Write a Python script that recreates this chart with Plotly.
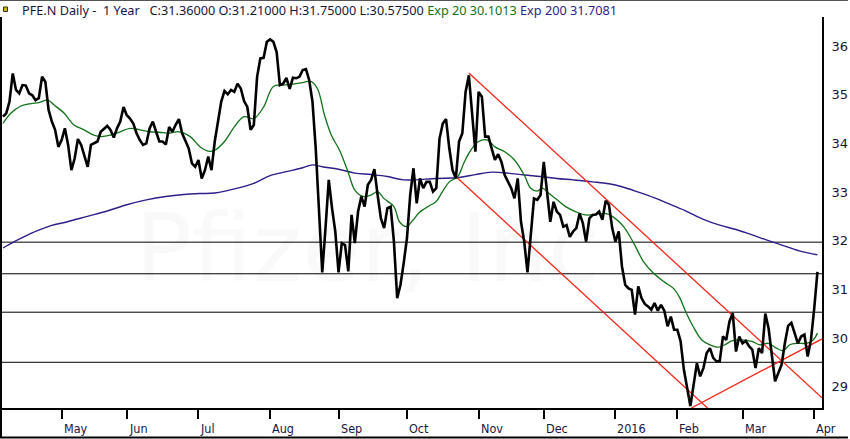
import pandas as pd
import plotly.graph_objects as go

# NYSE holidays inside the window (trading-day axis, no gaps)
holidays = ["2015-05-25", "2015-07-03", "2015-09-07", "2015-11-26",
            "2015-12-25", "2016-01-01", "2016-01-18", "2016-02-15", "2016-03-25"]

# daily closes, Apr 7 2015 -> Apr 5 2016
close = [
    34.55, 34.62, 34.86, 35.44, 35.10, 35.03, 35.20, 35.19, 35.03, 34.99,
    34.89, 34.93, 35.37, 35.27, 34.69, 34.45, 34.28, 33.93, 34.07, 34.31,
    33.97, 33.45, 33.69, 34.09, 33.97, 33.76, 33.52, 33.97, 34.00, 34.04,
    34.24, 34.31, 34.36, 34.28, 34.12, 34.31, 34.45, 34.75, 34.58, 34.51,
    34.41, 34.21, 34.07, 33.97, 34.00, 34.31, 34.45, 34.24, 34.04, 34.04,
    33.98, 34.34, 34.24, 34.38, 34.50, 34.21, 34.04, 33.90, 33.59, 33.52,
    33.66, 33.28, 33.45, 33.73, 33.45, 34.04, 34.45, 34.86, 35.08, 35.01,
    35.10, 35.06, 35.23, 35.13, 34.87, 34.75, 34.28, 34.38, 35.37, 35.75,
    35.76, 36.09, 36.14, 36.09, 35.88, 35.20, 35.23, 35.35, 35.12, 35.35,
    35.34, 35.37, 35.51, 35.53, 35.30, 34.86, 33.90, 32.53, 31.35, 32.26,
    33.25, 32.67, 32.19, 31.35, 31.95, 31.91, 31.37, 32.53, 31.95, 32.60,
    32.91, 32.70, 33.15, 33.25, 33.47, 32.94, 32.46, 32.26, 32.67, 32.70,
    31.98, 30.82, 31.09, 31.54, 32.05, 32.94, 33.49, 32.77, 33.28, 33.08,
    33.21, 33.21, 33.01, 33.08, 34.10, 34.41, 34.50, 33.90, 33.45, 33.28,
    34.04, 34.21, 35.06, 35.40, 34.58, 33.83, 35.06, 34.96, 34.14, 34.14,
    33.90, 33.66, 33.78, 33.62, 33.35, 33.21, 33.08, 32.87, 33.28, 32.39,
    31.98, 31.35, 32.19, 32.87, 32.84, 32.94, 33.62, 33.01, 32.39, 32.80,
    32.60, 32.53, 32.29, 32.32, 32.08, 32.19, 32.26, 32.56, 32.36, 31.98,
    32.46, 32.53, 32.54, 32.60, 32.43, 32.82, 32.74, 32.26, 31.98, 32.19,
    31.47, 31.09, 31.02, 30.99, 30.48, 31.06, 30.82, 30.70, 30.65, 30.58,
    30.72, 30.56, 30.68, 30.56, 30.24, 30.44, 30.17, 30.17, 29.93, 29.35,
    28.97, 28.60, 29.04, 29.48, 29.21, 29.38, 29.69, 29.79, 29.59, 29.52,
    29.52, 30.03, 29.96, 30.34, 30.51, 29.72, 30.03, 29.89, 29.94, 29.83,
    29.76, 29.38, 29.79, 29.69, 30.50, 30.20, 29.65, 29.11, 29.28, 29.45,
    29.89, 30.25, 30.31, 30.10, 29.89, 30.03, 30.07, 29.62, 29.95, 30.60,
    31.36,
]

# moving averages (day index, value)
ema20_day = [0, 2.4, 5.5, 8.6, 11, 13.7, 15.7, 18.8, 21.8, 24.9, 27.9, 30, 33, 36, 39,
             42, 45, 48, 51, 54, 57.5, 60.5, 63, 65, 68, 71, 74, 77, 80, 83, 86, 89,
             92, 94.3, 96.5, 98.7, 100.8, 103.3, 105.9, 108, 110.5, 113, 115, 116.9,
             120, 121.7, 123.8, 125.8, 127.8, 130.9, 132.9, 134.9, 137, 139.6, 141.6,
             143.6, 146, 148.7, 151, 154, 157, 160, 162, 164, 165.6, 167.6, 170.1,
             172.7, 175.7, 178.8, 181.9, 184.9, 187.5, 190.5, 193.6, 196.6, 199.7,
             202.8, 205.8, 207.8, 209.3, 211.8, 214.5, 217, 219.6, 221.6, 223.7,
             226.7, 229.8, 232.3, 234.9, 237.4, 239.5, 241.5, 244, 246.6, 248.7, 250]
ema20_val = [34.41, 34.62, 34.77, 34.82, 34.84, 34.89, 34.79, 34.62, 34.38, 34.28, 34.17,
             34.14, 34.17, 34.24, 34.31, 34.28, 34.24, 34.23, 34.21, 34.24, 34.14, 33.93,
             33.84, 33.86, 34.04, 34.34, 34.55, 34.51, 34.75, 35.17, 35.20, 35.22, 35.25,
             35.28, 35.13, 34.58, 34.17, 33.86, 33.42, 33.04, 32.91, 32.94, 33.01, 32.87,
             32.70, 32.39, 32.29, 32.42, 32.58, 32.72, 32.80, 33.01, 33.21, 33.32, 33.62,
             33.86, 34.04, 34.07, 33.93, 33.83, 33.66, 33.35, 33.08, 33.02, 33.08, 32.97,
             32.84, 32.70, 32.60, 32.53, 32.54, 32.56, 32.48, 32.29, 31.95, 31.57, 31.33,
             31.16, 31.02, 30.82, 30.58, 30.24, 29.96, 29.86, 29.81, 29.86, 29.94, 29.96,
             29.93, 29.86, 29.89, 29.79, 29.74, 29.86, 29.89, 29.89, 29.96, 30.10]

ema200_day = [0, 3.5, 8.6, 14.7, 19.8, 25.9, 32, 38, 44, 50, 55.5, 60.5, 65, 72, 77,
              82, 87, 92, 95, 98, 103, 108, 113, 118, 123, 133, 140, 145, 150, 155,
              160, 165, 170, 175, 181, 186, 190, 195, 200, 205, 210, 215, 220, 225,
              230, 235, 240, 245, 250]
ema200_val = [31.85, 31.98, 32.15, 32.31, 32.39, 32.50, 32.61, 32.74, 32.84, 32.91,
              32.95, 32.97, 32.98, 33.08, 33.18, 33.34, 33.42, 33.50, 33.56, 33.52,
              33.47, 33.39, 33.36, 33.32, 33.25, 33.28, 33.30, 33.36, 33.41, 33.39,
              33.35, 33.32, 33.28, 33.25, 33.21, 33.17, 33.11, 33.00, 32.88, 32.74,
              32.60, 32.44, 32.32, 32.23, 32.12, 32.00, 31.89, 31.78, 31.71]

# drawn trend lines (day index, price)
upper_day = [143, 251.4]
upper_px = [35.45, 28.77]
lower_day = [139, 219]
lower_px = [33.32, 28.39]
rise_day = [211.3, 251.4]
rise_px = [28.56, 29.98]

levels = [31.97, 31.32, 30.53, 29.50]
y_ticks = [29, 30, 31, 32, 33, 34, 35, 36]

dates = pd.bdate_range("2015-04-07", periods=len(close), freq="C", holidays=holidays)
day = list(range(len(close)))

month_idx, month_lbl = [], []
for i in range(1, len(dates)):
    if dates[i].month != dates[i - 1].month:
        month_idx.append(i)
        month_lbl.append(str(dates[i].year) if dates[i].month == 1 else dates[i].strftime("%b"))

W, H = 850, 439
L, R, T, B = 2, 26, 17, 31
pw, ph = W - L - R, H - T - B


def px(x, y):
    # pixel position -> paper coords
    return (x - L) / pw, (H - B - y) / ph


navy = "#16163e"
green = "#11721a"
purple = "#2d1e8a"
red = "#f5261a"

fig = go.Figure()

for lv in levels:
    fig.add_shape(type="line", xref="paper", yref="y", x0=0, x1=1, y0=lv, y1=lv,
                  line=dict(color="black", width=1), layer="below")

fig.add_trace(go.Scatter(x=ema200_day, y=ema200_val, mode="lines",
                         line=dict(color=purple, width=1.4, shape="spline"), name="Exp 200"))
fig.add_trace(go.Scatter(x=ema20_day, y=ema20_val, mode="lines",
                         line=dict(color=green, width=1.3, shape="spline"), name="Exp 20"))
for xs, ys in [(upper_day, upper_px), (lower_day, lower_px), (rise_day, rise_px)]:
    fig.add_trace(go.Scatter(x=xs, y=ys, mode="lines", line=dict(color=red, width=1.3),
                             hoverinfo="skip"))
fig.add_trace(go.Scatter(x=day, y=close, mode="lines", line=dict(color="black", width=2.6),
                         customdata=dates.strftime("%Y-%m-%d"), name="PFE.N",
                         hovertemplate="%{customdata}: %{y:.2f}<extra></extra>"))

# frame pieces outside the plot area
x0, y0 = px(1, 17)
x1, y1 = px(1, 437.5)
fig.add_shape(type="line", xref="paper", yref="paper", x0=x0, x1=x1, y0=y0, y1=y1,
              line=dict(color="black", width=2))
a, b = px(0, 437.5)
c, d = px(850, 437.5)
fig.add_shape(type="line", xref="paper", yref="paper", x0=a, x1=c, y0=b, y1=d,
              line=dict(color="black", width=2))
a, b = px(0, 0.5)
c, d = px(850, 0.5)
fig.add_shape(type="line", xref="paper", yref="paper", x0=a, x1=c, y0=b, y1=d,
              line=dict(color="#555555", width=1))
a, b = px(3.5, 7)
c, d = px(7.5, 11.5)
fig.add_shape(type="rect", xref="paper", yref="paper", x0=a, x1=c, y0=b, y1=d,
              fillcolor="#c9b800", line=dict(color="#333300", width=1))

# watermark
wx, wy = px(368, 305)
fig.add_annotation(text="Pfizer, Inc", xref="paper", yref="paper", x=wx, y=wy,
                   showarrow=False, font=dict(family="DejaVu Sans", size=95,
                                              color="rgba(0,0,0,0.022)"))

# header line
hx, hy = px(20, 10)
header = ("PFE.N Daily -\u00a0 1 Year\u00a0\u00a0 C:31.36000 O:31.21000 H:31.75000 L:30.57500 "
          f"<span style='color:{green}'>Exp 20 30.1013</span> "
          f"<span style='color:{purple}'>Exp 200 31.7081</span>")
fig.add_annotation(text=header, xref="paper", yref="paper", x=hx, y=hy, xanchor="left",
                   yanchor="middle", showarrow=False,
                   font=dict(family="Noto Sans", size=12.7, color=navy))

# month labels sit to the right of their tick
for i, lbl in zip(month_idx, month_lbl):
    fig.add_annotation(text=lbl, x=i, xref="x", y=0, yref="paper", yshift=-20,
                       xanchor="left", yanchor="middle", xshift=0, showarrow=False,
                       font=dict(family="DejaVu Sans Condensed, Liberation Sans Narrow, sans-serif",
                                 size=12.5, color=navy))

fig.update_layout(
    width=W, height=H,
    margin=dict(l=L, r=R, t=T, b=B),
    plot_bgcolor="white", paper_bgcolor="white",
    showlegend=False,
    xaxis=dict(range=[-0.3, 251.4], showgrid=False, zeroline=False,
               showline=True, linecolor="black", linewidth=2,
               tickvals=month_idx, ticks="outside", ticklen=9, tickwidth=2,
               tickcolor="black", showticklabels=False),
    yaxis=dict(range=[28.56, 36.6], side="right", showgrid=False, zeroline=False,
               showline=True, linecolor="black", linewidth=2,
               tickvals=y_ticks, ticks="", ticklabelstandoff=5,
               tickfont=dict(family="DejaVu Sans", size=13, color=navy)),
)

# page body has an 8px default margin; drop it so the figure fills the window
fig.write_html("out.html", config={"displayModeBar": False},
               post_script="document.body.style.margin = '0';")
